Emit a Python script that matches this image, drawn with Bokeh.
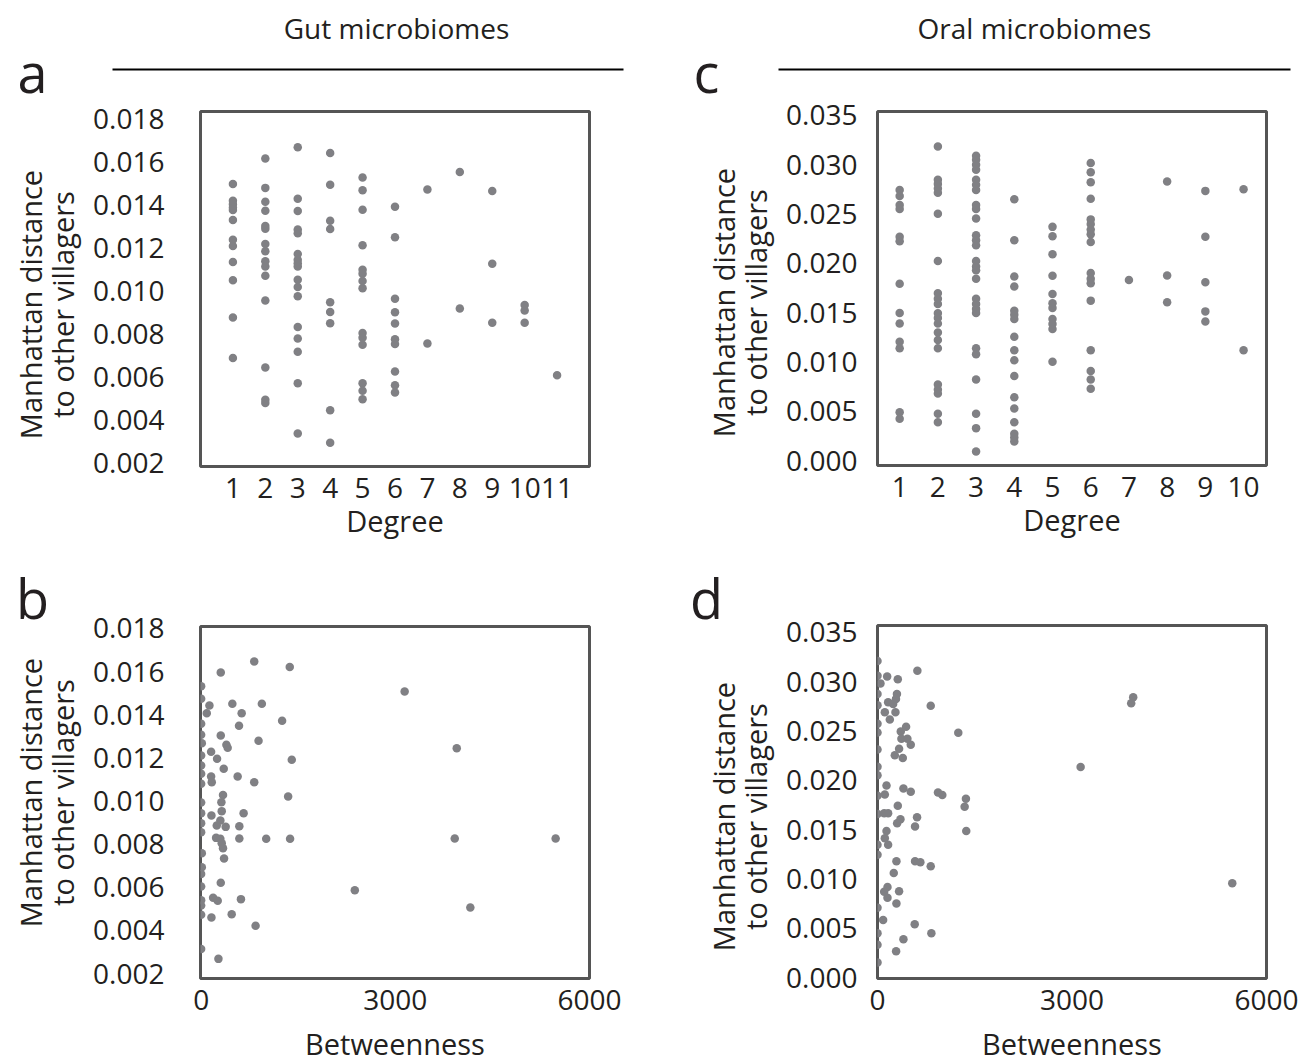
import numpy as np
from bokeh.plotting import figure
from bokeh.models import Range1d, FixedTicker, NumeralTickFormatter
from bokeh.layouts import column, row
from bokeh.embed import file_html
from bokeh.resources import INLINE
from bokeh.core.properties import value

FONT = "Open Sans"
TXT = "#231f20"
DOT = "#808084"
FRAME = "#555555"
H = 1061

# ---------------- data ----------------
# (a) gut microbiomes: degree vs Manhattan distance
gut_degree = [1, 1, 1, 1, 1, 1, 1, 1, 1, 1, 1, 1,
              2, 2, 2, 2, 2, 2, 2, 2, 2, 2, 2, 2, 2, 2, 2,
              3, 3, 3, 3, 3, 3, 3, 3, 3, 3, 3, 3, 3, 3, 3, 3, 3,
              4, 4, 4, 4, 4, 4, 4, 4, 4,
              5, 5, 5, 5, 5, 5, 5, 5, 5, 5, 5, 5, 5, 5,
              6, 6, 6, 6, 6, 6, 6, 6, 6, 6,
              7, 7, 8, 8, 9, 9, 9, 10, 10, 10, 11]
gut_dist = [0.01499, 0.01421, 0.01405, 0.01390, 0.01378, 0.01332, 0.01240, 0.01211, 0.01137, 0.01052, 0.00878, 0.00690,
            0.01618, 0.01481, 0.01416, 0.01375, 0.01304, 0.01291, 0.01220, 0.01187, 0.01140, 0.01116, 0.01073, 0.00958, 0.00646, 0.00496, 0.00481,
            0.01670, 0.01430, 0.01373, 0.01287, 0.01270, 0.01174, 0.01147, 0.01131, 0.01116, 0.01054, 0.01020, 0.00977, 0.00834, 0.00781, 0.00719, 0.00573, 0.00339,
            0.01643, 0.01495, 0.01328, 0.01290, 0.00949, 0.00904, 0.00852, 0.00447, 0.00296,
            0.01529, 0.01470, 0.01379, 0.01214, 0.01100, 0.01082, 0.01048, 0.01014, 0.00807, 0.00784, 0.00752, 0.00573, 0.00538, 0.00499,
            0.01393, 0.01251, 0.00966, 0.00903, 0.00851, 0.00777, 0.00755, 0.00627, 0.00564, 0.00530,
            0.01473, 0.00758, 0.01555, 0.00920, 0.01466, 0.01128, 0.00854, 0.00937, 0.00911, 0.00854, 0.00610]

# (c) oral microbiomes: degree vs Manhattan distance
oral_degree = [1, 1, 1, 1, 1, 1, 1, 1, 1, 1, 1, 1, 1,
               2, 2, 2, 2, 2, 2, 2, 2, 2, 2, 2, 2, 2, 2, 2, 2, 2, 2, 2, 2, 2,
               3, 3, 3, 3, 3, 3, 3, 3, 3, 3, 3, 3, 3, 3, 3, 3, 3, 3, 3, 3, 3, 3, 3, 3, 3, 3, 3,
               4, 4, 4, 4, 4, 4, 4, 4, 4, 4, 4, 4, 4, 4, 4, 4, 4,
               5, 5, 5, 5, 5, 5, 5, 5, 5, 5, 5,
               6, 6, 6, 6, 6, 6, 6, 6, 6, 6, 6, 6, 6, 6, 6, 6, 6,
               7, 8, 8, 8, 9, 9, 9, 9, 9, 10, 10]
oral_dist = [0.02745, 0.02684, 0.02592, 0.02551, 0.02269, 0.02224, 0.01793, 0.01496, 0.01391, 0.01204, 0.01140, 0.00490, 0.00425,
             0.03184, 0.02847, 0.02806, 0.02758, 0.02717, 0.02503, 0.02023, 0.01697, 0.01640, 0.01589, 0.01493, 0.01446, 0.01391, 0.01299, 0.01222, 0.01140, 0.00772, 0.00721, 0.00680, 0.00476, 0.00388,
             0.03092, 0.03051, 0.03000, 0.02949, 0.02847, 0.02796, 0.02745, 0.02592, 0.02551, 0.02456, 0.02286, 0.02235, 0.02184, 0.02023, 0.01969, 0.01929, 0.01844, 0.01640, 0.01589, 0.01538, 0.01497, 0.01140, 0.01078, 0.00823, 0.00476, 0.00329, 0.00092,
             0.02650, 0.02235, 0.01867, 0.01765, 0.01520, 0.01480, 0.01436, 0.01255, 0.01119, 0.01017, 0.00857, 0.00643, 0.00527, 0.00388, 0.00272, 0.00235, 0.00194,
             0.02370, 0.02276, 0.02092, 0.01874, 0.01690, 0.01595, 0.01548, 0.01436, 0.01385, 0.01334, 0.01003,
             0.03017, 0.02925, 0.02823, 0.02656, 0.02446, 0.02398, 0.02344, 0.02296, 0.02217, 0.01901, 0.01844, 0.01799, 0.01622, 0.01119, 0.00908, 0.00823, 0.00728,
             0.01830, 0.02830, 0.01878, 0.01605, 0.02735, 0.02269, 0.01809, 0.01513, 0.01411, 0.02752, 0.01119]

# (b) gut microbiomes: betweenness vs Manhattan distance
gut_betw = [820, 1369, 303, 3144, 0, 0, 128, 482, 938, 87, 626, 1251, 585, 0, 0, 303, 887, 390, 410, 10,
            154, 3949, 246, 1400, 0, 349, 0, 154, 164, 564, 820, 0, 0, 1344, 338, 313, 0, 318, 656, 159,
            0, 297, 241, 379, 590, 0, 0, 231, 297, 590, 1005, 1374, 3918, 5477, 318, 338, 354, 10, 10, 0,
            303, 0, 2374, 185, 256, 615, 0, 0, 4159, 0, 159, 472, 841, 0, 267]
gut_betw_dist = [0.01647, 0.01621, 0.01596, 0.01508, 0.01532, 0.01474, 0.01443, 0.01451, 0.01451, 0.01407,
                 0.01407, 0.01372, 0.01349, 0.01358, 0.01307, 0.01304, 0.01279, 0.01261, 0.01247, 0.01268,
                 0.01228, 0.01245, 0.01196, 0.01191, 0.01211, 0.01149, 0.01165, 0.01114, 0.01087, 0.01114,
                 0.01087, 0.01126, 0.01080, 0.01021, 0.01028, 0.00994, 0.00993, 0.00953, 0.00943, 0.00933,
                 0.00943, 0.00910, 0.00886, 0.00880, 0.00883, 0.00897, 0.00855, 0.00829, 0.00825, 0.00826,
                 0.00825, 0.00825, 0.00826, 0.00826, 0.00804, 0.00781, 0.00733, 0.00758, 0.00693, 0.00662,
                 0.00621, 0.00603, 0.00586, 0.00551, 0.00537, 0.00545, 0.00540, 0.00515, 0.00506, 0.00473,
                 0.00460, 0.00475, 0.00422, 0.00314, 0.00268]

# (d) oral microbiomes: betweenness vs Manhattan distance
oral_betw = [0, 615, 149, 313, 46, 0, 300, 285, 164, 241, 821, 0, 0, 113, 277, 190, 0, 441, 359, 1246,
             0, 369, 461, 513, 333, 0, 267, 390, 3133, 0, 0, 139, 113, 400, 513, 933, 1000, 1364, 1344, 313,
             0, 103, 164, 0, 610, 354, 303, 579, 1369, 139, 113, 164, 0, 0, 292, 579, 661, 821, 251, 5472,
             154, 103, 333, 154, 292, 0, 87, 574, 831, 0, 400, 0, 287, 0, 3944, 3913]
oral_betw_dist = [0.03211, 0.03110, 0.03053, 0.03026, 0.02983, 0.03060, 0.02875, 0.02825, 0.02791, 0.02774,
                  0.02757, 0.02875, 0.02760, 0.02690, 0.02690, 0.02616, 0.02573, 0.02542, 0.02495, 0.02482,
                  0.02485, 0.02421, 0.02421, 0.02361, 0.02320, 0.02312, 0.02253, 0.02227, 0.02136, 0.02137,
                  0.02052, 0.01948, 0.01857, 0.01917, 0.01884, 0.01877, 0.01850, 0.01814, 0.01733, 0.01743,
                  0.01843, 0.01666, 0.01666, 0.01659, 0.01625, 0.01605, 0.01565, 0.01531, 0.01487, 0.01487,
                  0.01413, 0.01346, 0.01346, 0.01245, 0.01179, 0.01179, 0.01168, 0.01128, 0.01061, 0.00957,
                  0.00917, 0.00869, 0.00876, 0.00809, 0.00751, 0.00708, 0.00584, 0.00540, 0.00449, 0.00450,
                  0.00388, 0.00332, 0.00267, 0.00153, 0.02842, 0.02781]

gut_y_ticks = [0.002, 0.004, 0.006, 0.008, 0.010, 0.012, 0.014, 0.016, 0.018]
oral_y_ticks = [0.000, 0.005, 0.010, 0.015, 0.020, 0.025, 0.030, 0.035]
gut_x_ticks = [1, 2, 3, 4, 5, 6, 7, 8, 9, 10, 11]
oral_x_ticks = [1, 2, 3, 4, 5, 6, 7, 8, 9, 10]
betw_ticks = [0, 3000, 6000]

titles = ["Gut microbiomes", "Oral microbiomes"]
ylabel_lines = ["Manhattan distance", "to other villagers"]


def blank(w, h, xr, yr):
    f = figure(width=w, height=h, x_range=Range1d(*xr), y_range=Range1d(*yr),
               output_backend="svg", toolbar_location=None, min_border=0,
               x_axis_location=None, y_axis_location=None)
    f.grid.visible = False
    f.outline_line_color = None
    return f


def panel(xs, ys, xr, yr, xticks, yticks, xlabel, fw, fh, bl, br, bt, bb, ylab_std, xlab_std):
    p = figure(frame_width=fw, frame_height=fh, min_border_left=bl, min_border_right=br,
               min_border_top=bt, min_border_bottom=bb,
               x_range=Range1d(*xr), y_range=Range1d(*yr),
               output_backend="svg", toolbar_location=None)
    p.scatter(xs, ys, size=8.5, fill_color=DOT, line_color=None)
    p.grid.visible = False
    p.outline_line_color = FRAME
    p.outline_line_width = 3
    for ax in (p.xaxis[0], p.yaxis[0]):
        ax.axis_line_color = None
        ax.major_tick_line_color = None
        ax.minor_tick_line_color = None
        ax.major_label_text_font = FONT
        ax.major_label_text_font_size = "28px"
        ax.major_label_text_color = TXT
        ax.axis_label_text_font = FONT
        ax.axis_label_text_font_size = "29px"
        ax.axis_label_text_font_style = "normal"
        ax.axis_label_text_color = TXT
    p.xaxis.ticker = FixedTicker(ticks=xticks)
    p.yaxis.ticker = FixedTicker(ticks=yticks)
    p.yaxis.formatter = NumeralTickFormatter(format="0.000")
    p.xaxis.formatter = NumeralTickFormatter(format="0")
    p.yaxis.major_label_standoff = ylab_std
    p.xaxis.major_label_standoff = 5
    p.xaxis.axis_label = xlabel
    p.xaxis.axis_label_standoff = xlab_std
    return p


def strip(w, letters, letter_x, letter_y, lab_x, lab_y):
    # side strip (full page height) holding the panel letters and two-line y titles
    s = blank(w, H, (0, w), (0, H))
    s.text(x=[letter_x, letter_x], y=[H - letter_y[0], H - letter_y[1]], text=letters,
           text_font=value(FONT), text_font_size="54px", text_align="center",
           text_baseline="middle", text_color=TXT)
    for cy in lab_y:
        s.text(x=lab_x, y=[H - cy, H - cy], text=ylabel_lines, angle=np.pi / 2,
               text_font=value(FONT), text_font_size="29px", text_align="center",
               text_baseline="middle", text_color=TXT)
    return s


def header(w, title, tx, x0, x1):
    h = blank(w, 96, (0, w), (96, 0))
    h.text(x=[tx], y=[27], text=[title], text_font=value(FONT), text_font_size="28px",
           text_align="center", text_baseline="middle", text_color=TXT)
    h.segment(x0=[x0], y0=[69], x1=[x1], y1=[69], line_color="black", line_width=2)
    return h


stripL = strip(85, ["a", "b"], 32, (71, 597), [30, 62], (304, 792))
stripR = strip(100, ["c", "d"], 29, (71, 597), [46, 78], (302, 816))

hL = header(592, titles[0], 311, 27, 538)
hR = header(532, titles[1], 257, 1, 513)

pa = panel(gut_degree, gut_dist, (0, 12), (0.00186, 0.01836), gut_x_ticks, gut_y_ticks,
           "Degree", 389, 355, 115, 88, 15, 99, 30, 0)
pb = panel(gut_betw, gut_betw_dist, (-10, 6000), (0.00177, 0.01809), betw_ticks, gut_y_ticks,
           "Betweenness", 389, 352, 115, 88, 61, 83, 30, 11)
pc = panel(oral_degree, oral_dist, (0.42, 10.6), (-0.0005, 0.0354), oral_x_ticks, oral_y_ticks,
           "Degree", 389, 354, 100, 43, 15, 100, 14, 0)
pd_ = panel(oral_betw, oral_betw_dist, (0, 6000), (-0.0001, 0.0357), betw_ticks, oral_y_ticks,
            "Betweenness", 389, 353, 100, 43, 60, 83, 14, 11)

layout = row(stripL, column(row(hL), pa, pb), stripR, column(row(hR), pc, pd_))
open("out.html", "w").write(file_html(layout, INLINE))
